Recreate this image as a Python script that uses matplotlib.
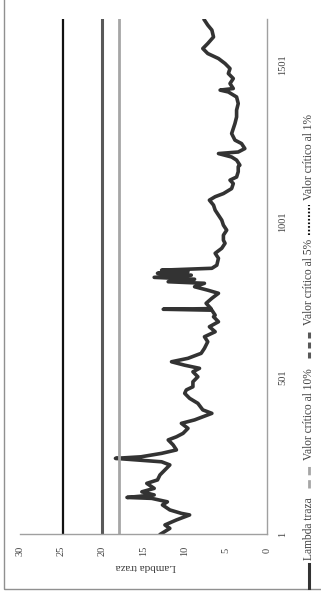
import matplotlib
matplotlib.use('Agg')
import matplotlib.pyplot as plt
from matplotlib.lines import Line2D
from matplotlib.patches import Rectangle

# trace statistic by observation
obs = [1, 19, 30, 46, 62, 67, 78, 94, 104, 115, 118, 126, 136, 147, 163, 174,
       190, 206, 222, 232, 243, 248, 259, 270, 286, 302, 312, 323, 339, 355,
       366, 387, 398, 419, 435, 451, 462, 472, 488, 504, 520, 531, 541, 552,
       563, 579, 595, 616, 632, 648, 664, 680, 696, 701, 717, 720, 722, 739,
       755, 771, 781, 792, 803, 808, 816, 822, 829, 835, 840, 845, 851, 861,
       883, 899, 915, 931, 941, 957, 973, 989, 1005, 1021, 1037, 1053, 1069,
       1080, 1090, 1106, 1122, 1133, 1143, 1160, 1176, 1181, 1197, 1207, 1218,
       1223, 1234, 1250, 1261, 1282, 1298, 1314, 1335, 1357, 1378, 1399, 1415,
       1421, 1426, 1442, 1458, 1474, 1490, 1506, 1522, 1538, 1554, 1570, 1591,
       1613, 1629, 1645]
lambda_traza = [12.9, 11.8, 12.4, 11.0, 9.4, 10.4, 11.8, 12.7, 12.1, 14.0, 17.0,
                13.7, 15.2, 13.7, 14.6, 13.3, 13.0, 12.4, 11.8, 12.8, 18.4, 15.3,
                12.8, 11.0, 11.4, 12.0, 11.0, 10.2, 9.6, 10.4, 8.8, 6.7, 7.8, 8.4,
                9.4, 10.0, 9.8, 9.0, 9.0, 8.4, 9.0, 8.2, 10.0, 11.6, 9.6, 8.0, 7.6,
                7.2, 7.6, 6.3, 7.0, 5.9, 6.5, 6.3, 6.7, 12.6, 6.8, 7.4, 6.7, 5.9,
                7.2, 8.8, 7.6, 12.0, 8.8, 13.7, 9.2, 13.3, 9.6, 12.8, 6.7, 6.1,
                5.9, 6.3, 5.5, 5.1, 5.3, 5.3, 4.9, 5.3, 5.5, 5.9, 6.3, 6.5, 7.0,
                6.3, 5.3, 4.3, 4.1, 4.5, 3.7, 3.5, 3.5, 3.3, 3.7, 4.3, 5.9, 3.5,
                2.7, 3.1, 3.9, 4.3, 4.1, 3.9, 3.7, 3.7, 3.5, 3.7, 4.7, 5.7, 4.1,
                4.5, 4.1, 4.7, 4.5, 5.1, 5.9, 7.2, 7.8, 7.2, 6.5, 6.7, 7.2, 7.6]
n_obs = 1648

crit_10 = 18.0
crit_5 = 20.0
crit_1 = 24.8

value_ticks = [0, 5, 10, 15, 20, 25, 30]
obs_ticks = [1, 501, 1001, 1501]

plt.rcParams['font.family'] = 'Liberation Serif'
plt.rcParams['lines.scale_dashes'] = False

fig = plt.figure(figsize=(3.21, 5.98), dpi=100)
ax = fig.add_axes([0.062, 0.107, 0.770, 0.861])

# chart is laid out sideways: values run right-to-left, observations upward
ax.plot(lambda_traza, obs, color='#333333', lw=2.6, solid_joinstyle='round')
ax.axvline(crit_10, color='#a6a6a6', lw=2.0)
ax.axvline(crit_5, color='#595959', lw=2.2)
ax.axvline(crit_1, color='#111111', lw=1.6)

ax.set_xlim(30, 0)
ax.set_ylim(1, n_obs)
ax.set_xticks(value_ticks)
ax.set_yticks(obs_ticks)
ax.yaxis.tick_right()

for side in ['left', 'top']:
    ax.spines[side].set_visible(False)
for side in ['right', 'bottom']:
    ax.spines[side].set_color('#a0a0a0')
    ax.spines[side].set_linewidth(1.0)

ax.tick_params(axis='x', length=0, pad=12, labelsize=7.5, labelcolor='#404040',
               labelrotation=90)
ax.tick_params(axis='y', length=0, pad=11, labelsize=7.5, labelcolor='#404040',
               labelrotation=90)
for lbl in ax.get_xticklabels():
    lbl.set_va('center')
for lbl in ax.get_yticklabels():
    lbl.set_ha('center')
    lbl.set_va('center')

fig.text(146 / 321, 1 - 566 / 598, 'Lambda traza', rotation=180,
         ha='center', va='center', fontsize=8, color='#404040')

# legend, stacked bottom to top
lx = 309 / 321
entries = [
    ('Lambda traza', dict(color='#333333', lw=2.2), 588, 564, 560),
    ('Valor crítico al 10%', dict(color='#a6a6a6', lw=2.0, dashes=(6, 3.5)), 488, 465, 460),
    ('Valor crítico al 5%', dict(color='#595959', lw=2.2, dashes=(4.3, 2.9)), 358, 330, 325),
    ('Valor crítico al 1%', dict(color='#111111', lw=1.5, dashes=(1.2, 1.4)), 235, 205, 200),
]
for label, style, y0, y1, ty in entries:
    fig.add_artist(Line2D([lx, lx], [1 - y0 / 598, 1 - y1 / 598],
                          transform=fig.transFigure, **style))
    fig.text(lx, 1 - ty / 598, label, rotation=90, ha='center', va='bottom',
             fontsize=8.3, color='#404040')

# outer chart border
fig.add_artist(Rectangle((4 / 321, 1 - 589 / 598), 1.2, 1.2,
                         transform=fig.transFigure, fill=False,
                         edgecolor='#909090', lw=1.0))

fig.savefig('out.png', dpi=100)
plt.close(fig)
